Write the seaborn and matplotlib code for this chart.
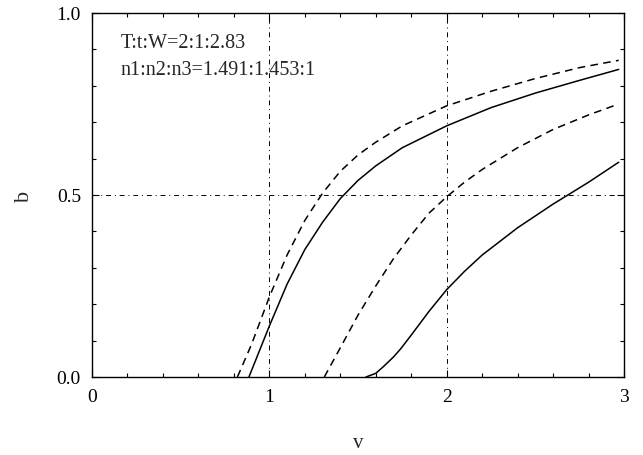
import numpy as np
import pandas as pd
import matplotlib
matplotlib.use("Agg")
import matplotlib.pyplot as plt
import seaborn as sns
from matplotlib.ticker import MultipleLocator

# data
dl_x = [0.82, 0.9, 1.0, 1.1, 1.2, 1.3, 1.4, 1.5, 1.6, 1.75, 2.0, 2.25, 2.5, 2.75, 2.97]
dl_y = [0.0, 0.09, 0.22, 0.335, 0.43, 0.505, 0.565, 0.61, 0.645, 0.69, 0.745, 0.785, 0.82, 0.85, 0.87]

sl_x = [0.885, 1.0, 1.1, 1.2, 1.3, 1.4, 1.5, 1.6, 1.75, 2.0, 2.25, 2.5, 2.75, 2.97]
sl_y = [0.0, 0.14, 0.255, 0.35, 0.425, 0.49, 0.54, 0.58, 0.63, 0.69, 0.74, 0.78, 0.815, 0.845]

dr_x = [1.31, 1.4, 1.5, 1.6, 1.7, 1.8, 1.9, 2.0, 2.1, 2.2, 2.4, 2.6, 2.8, 2.97]
dr_y = [0.0, 0.08, 0.17, 0.25, 0.325, 0.39, 0.45, 0.495, 0.535, 0.57, 0.63, 0.68, 0.72, 0.75]

sr_x = [1.545, 1.6, 1.64, 1.7, 1.74, 1.8, 1.9, 2.0, 2.1, 2.2, 2.4, 2.6, 2.8, 2.97]
sr_y = [0.0, 0.01, 0.027, 0.055, 0.077, 0.115, 0.18, 0.24, 0.29, 0.335, 0.41, 0.475, 0.535, 0.59]

x_ticks = [0, 1, 2, 3]
x_ticklabels = ["0", "1", "2", "3"]
y_ticks = [0.0, 0.5, 1.0]
y_ticklabels = ["0.0", "0.5", "1.0"]
annot_lines = ["T:t:W=2:1:2.83", "n1:n2:n3=1.491:1.453:1"]

sns.set_style("ticks")
plt.rcParams['font.family'] = ['Liberation Serif', 'DejaVu Serif']

fig = plt.figure(figsize=(6.43, 4.56), dpi=100)
ax = fig.add_axes([92/643, 1 - 378/456, (624 - 92)/643, (378 - 14)/456])

curves = [(dl_x, dl_y, (0, (5, 3.5))), (sl_x, sl_y, '-'),
          (dr_x, dr_y, (0, (5, 3.5))), (sr_x, sr_y, '-')]
for xs, ys, ls in curves:
    df = pd.DataFrame({"v": xs, "b": ys})
    sns.lineplot(data=df, x="v", y="b", ax=ax, color="black", lw=1.1,
                 linestyle=ls, sort=False)

# dash-dot reference lines
for xv in [1, 2]:
    ax.axvline(xv, color="black", lw=0.7, linestyle=(0, (5, 4, 1, 4)))
ax.axhline(0.5, color="black", lw=0.7, linestyle=(0, (5, 4, 1, 4)))

ax.set_xlim(0, 3)
ax.set_ylim(0, 1)
ax.set_xticks(x_ticks)
ax.set_xticklabels(x_ticklabels)
ax.set_yticks(y_ticks)
ax.set_yticklabels(y_ticklabels)
ax.xaxis.set_minor_locator(MultipleLocator(0.2))
ax.yaxis.set_minor_locator(MultipleLocator(0.1))
ax.tick_params(which="both", direction="in", top=True, right=True, colors="black",
               width=0.8)
ax.tick_params(which="major", length=5, labelsize=14, pad=8)
ax.tick_params(which="minor", length=3)
for s in ax.spines.values():
    s.set_color("black")
    s.set_linewidth(1.0)

ax.set_xlabel("v", fontsize=15, labelpad=20)
ax.set_ylabel("b", fontsize=16, labelpad=16)

ax.text(0.16, 0.92, annot_lines[0], fontsize=14.5, va="center", ha="left")
ax.text(0.16, 0.845, annot_lines[1], fontsize=14.5, va="center", ha="left")

fig.savefig("out.png", dpi=100)
